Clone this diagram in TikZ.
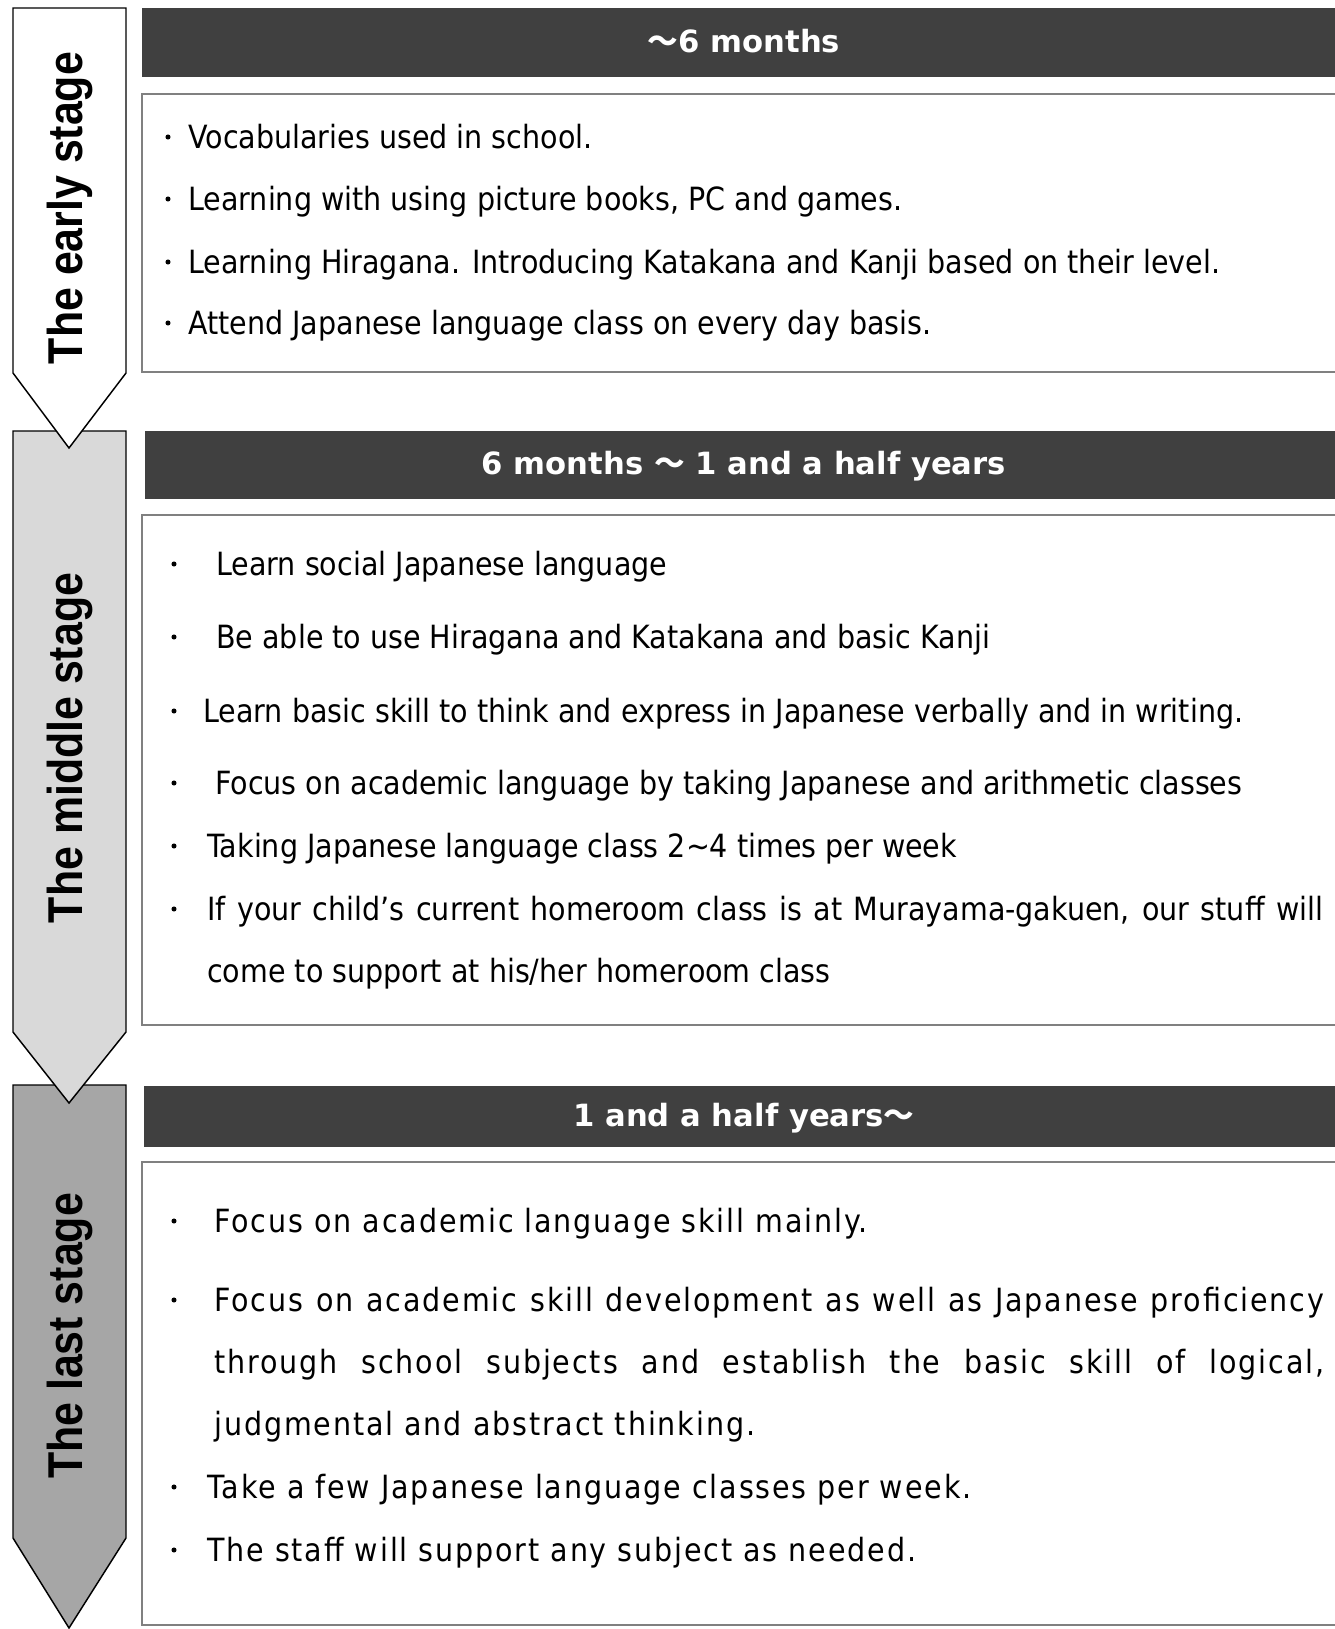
\documentclass[tikz,border=0pt]{standalone}
\usepackage{fontspec}
\setmainfont{DejaVu Sans}
\newfontfamily\bodyfont[FakeStretch=0.892]{DejaVu Sans}
\newfontfamily\lastfont[FakeStretch=0.892,LetterSpace=5.9]{DejaVu Sans}
\newfontfamily\headfont{DejaVu Sans}
\newfontfamily\stagefont[FakeStretch=0.876]{Liberation Sans}
\newfontfamily\cjk{Noto Sans CJK JP}
\definecolor{hdgray}{HTML}{404040}
\definecolor{boxgray}{HTML}{808080}
\definecolor{midgray}{HTML}{D9D9D9}
\definecolor{lastgray}{HTML}{A6A6A6}
\newcommand{\wave}{{\cjk\bfseries ～}}
\begin{document}
\begin{tikzpicture}[x=0.75pt,y=-0.75pt,
  stagebox/.style={draw=black,line width=1.1pt,line join=miter},
  headbar/.style={fill=hdgray},
  itembox/.style={draw=boxgray,line width=1.5pt,fill=white},
  bodytext/.style={anchor=base west,inner sep=0pt,font=\bodyfont\fontsize{24}{28}\selectfont},
  lasttext/.style={anchor=base west,inner sep=0pt,font=\lastfont\fontsize{24}{28}\selectfont},
  headtext/.style={anchor=base,inner sep=0pt,text=white,font=\headfont\bfseries\fontsize{23}{27}\selectfont},
  stagetext/.style={anchor=base,rotate=90,inner sep=0pt,font=\stagefont\bfseries\fontsize{36.7}{40}\selectfont},
  bullet/.style={circle,fill=black,inner sep=0pt,minimum size=3.8pt}
]
\useasboundingbox (0,0) rectangle (1335,1629);
\clip (0,0) rectangle (1335,1629);
\fill[white] (0,0) rectangle (1335,1629);

% stage arrows, lowest first so each tip overlaps the next one
\draw[stagebox,fill=lastgray] (13,1085) -- (126,1085) -- (126,1538) -- (69,1628) -- (13,1538) -- cycle;
\draw[stagebox,fill=midgray] (13,431) -- (126,431) -- (126,1032) -- (69,1103) -- (13,1032) -- cycle;
\draw[stagebox,fill=white] (13,8) -- (126,8) -- (126,373) -- (69,448) -- (13,373) -- cycle;

\node[stagetext] (s1) at (82,208) {The early stage};
\node[stagetext] (s2) at (82,748) {The middle stage};
\node[stagetext] (s3) at (82,1336) {The last stage};

% period headers
\fill[headbar] (142,8) rectangle (1340,77);
\fill[headbar] (145,431) rectangle (1340,499);
\fill[headbar] (144,1086) rectangle (1340,1147);
\node[headtext] (h1) at (744,52) {\wave 6 months};
\node[headtext] (h2) at (744,474) {6 months \wave{} 1 and a half years};
\node[headtext] (h3) at (744,1126) {1 and a half years\wave};

% content boxes
\draw[itembox] (142,94) rectangle (1345,372);
\draw[itembox] (142,515) rectangle (1345,1025);
\draw[itembox] (142,1162) rectangle (1345,1625);

% early stage items
\node[bullet] (b11) at (168,137) {};
\node[bodytext] (t11) at (188,148) {Vocabularies used in school.};
\node[bullet] (b12) at (168,199) {};
\node[bodytext] (t12) at (188,210) {Learning with using picture books, PC and games.};
\node[bullet] (b13) at (168,262) {};
\node[bodytext] (t13) at (188,273) {Learning Hiragana. Introducing Katakana and Kanji based on their level.};
\node[bullet] (b14) at (168,323) {};
\node[bodytext] (t14) at (188,334) {Attend Japanese language class on every day basis.};

% middle stage items
\node[bullet] (b21) at (174,564) {};
\node[bodytext] (t21) at (216,575) {Learn social Japanese language};
\node[bullet] (b22) at (174,637) {};
\node[bodytext] (t22) at (216,648) {Be able to use Hiragana and Katakana and basic Kanji};
\node[bullet] (b23) at (174,711) {};
\node[bodytext] (t23) at (203,722) {Learn basic skill to think and express in Japanese verbally and in writing.};
\node[bullet] (b24) at (174,783) {};
\node[bodytext] (t24) at (215,794) {Focus on academic language by taking Japanese and arithmetic classes};
\node[bullet] (b25) at (174,846) {};
\node[bodytext] (t25) at (207,857) {Taking Japanese language class 2\textasciitilde4 times per week};
\node[bullet] (b26) at (174,909) {};
\node[bodytext] (t26) at (207,920) {\makebox[837pt][s]{If your child’s current homeroom class is at Murayama-gakuen, our stuff will}};
\node[bodytext] (t27) at (207,982) {come to support at his/her homeroom class};

% last stage items
\node[bullet] (b31) at (174,1221) {};
\node[lasttext] (t31) at (214,1232) {Focus on academic language skill mainly.};
\node[bullet] (b32) at (174,1300) {};
\node[lasttext] (t32) at (214,1311) {\makebox[832.5pt][s]{Focus on academic skill development as well as Japanese proficiency}};
\node[lasttext] (t33) at (214,1373) {\makebox[832.5pt][s]{through school subjects and establish the basic skill of logical,}};
\node[lasttext] (t34) at (214,1435) {judgmental and abstract thinking.};
\node[bullet] (b35) at (174,1487) {};
\node[lasttext] (t35) at (207,1498) {Take a few Japanese language classes per week.};
\node[bullet] (b36) at (174,1550) {};
\node[lasttext] (t36) at (207,1561) {The staff will support any subject as needed.};
\end{tikzpicture}
\end{document}
